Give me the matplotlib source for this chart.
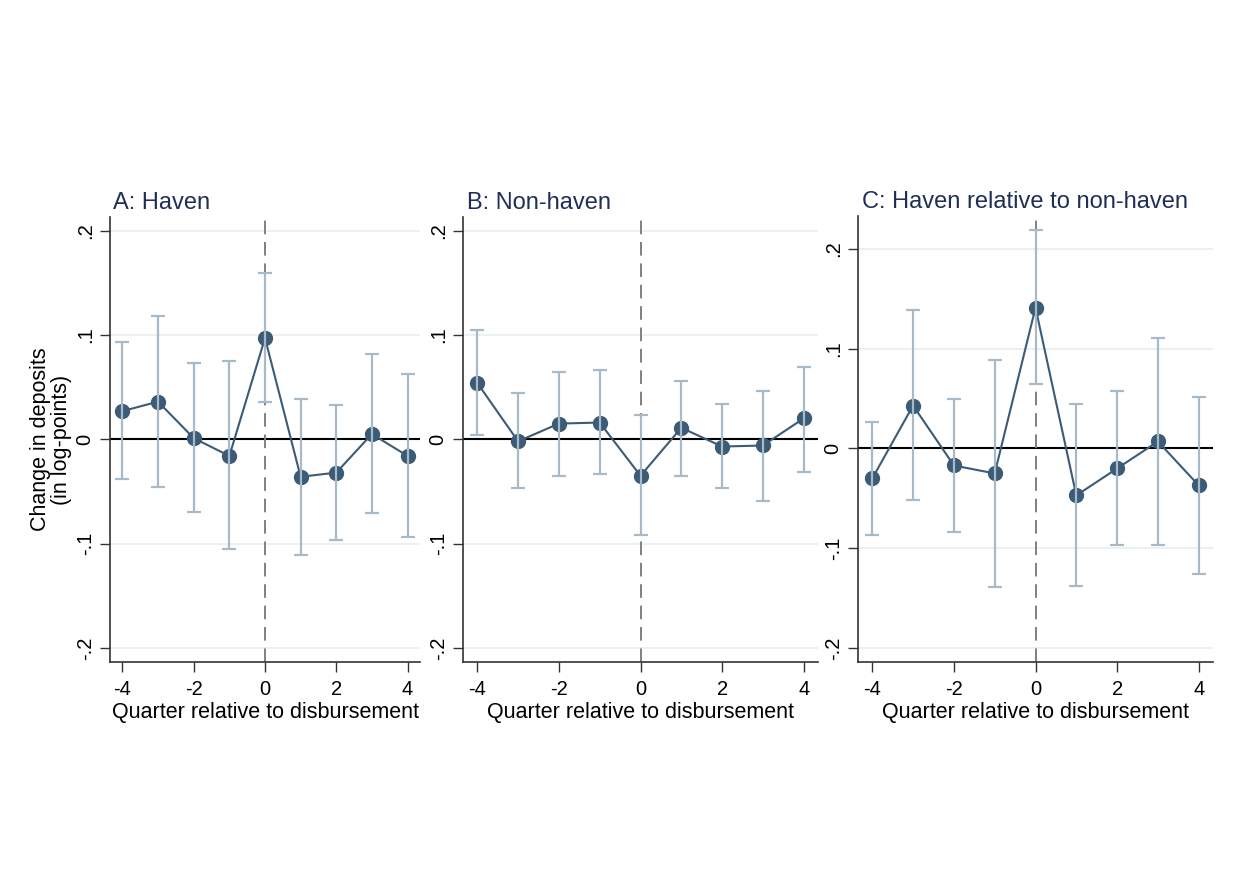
import matplotlib
matplotlib.use("Agg")
import matplotlib.pyplot as plt
import numpy as np

plt.rcParams['font.family'] = ['Liberation Sans', 'DejaVu Sans']

quarters = [-4, -3, -2, -1, 0, 1, 2, 3, 4]

# Panel A: haven
haven_est = [0.027, 0.036, 0.001, -0.016, 0.097, -0.036, -0.032, 0.005, -0.016]
haven_lo = [-0.038, -0.046, -0.070, -0.105, 0.036, -0.111, -0.097, -0.071, -0.094]
haven_hi = [0.093, 0.118, 0.073, 0.075, 0.159, 0.039, 0.033, 0.082, 0.063]

# Panel B: non-haven
nonhaven_est = [0.054, -0.002, 0.015, 0.016, -0.035, 0.011, -0.007, -0.006, 0.020]
nonhaven_lo = [0.004, -0.047, -0.035, -0.033, -0.092, -0.035, -0.047, -0.059, -0.031]
nonhaven_hi = [0.105, 0.044, 0.064, 0.066, 0.023, 0.056, 0.034, 0.046, 0.069]

# Panel C: haven relative to non-haven
diff_est = [-0.030, 0.043, -0.017, -0.025, 0.141, -0.047, -0.020, 0.007, -0.037]
diff_lo = [-0.087, -0.052, -0.084, -0.139, 0.065, -0.138, -0.097, -0.097, -0.126]
diff_hi = [0.027, 0.139, 0.050, 0.089, 0.219, 0.045, 0.058, 0.111, 0.052]

titles = ["A: Haven", "B: Non-haven", "C: Haven relative to non-haven"]
yticks = [-0.2, -0.1, 0.0, 0.1, 0.2]
ytick_labels = ["-.2", "-.1", "0", ".1", ".2"]
xticks = [-4, -2, 0, 2, 4]

POINT_COLOR = "#3b5b76"
CI_COLOR = "#a8bac8"
GRID_COLOR = "#e8f0f2"
TITLE_COLOR = "#1f2f57"

fig = plt.figure(figsize=(12.33, 8.96), dpi=100)
W, H = 1233, 896
boxes = [(110, 420, 217, 662, (-0.2135, 0.213)),
         (463, 818, 217, 662, (-0.2135, 0.213)),
         (858, 1213, 216, 662, (-0.2138, 0.2328))]

series = [(haven_est, haven_lo, haven_hi),
          (nonhaven_est, nonhaven_lo, nonhaven_hi),
          (diff_est, diff_lo, diff_hi)]

for i, ((x0, x1, y0, y1, ylim), (est, lo, hi), title) in enumerate(zip(boxes, series, titles)):
    ax = fig.add_axes([x0 / W, 1 - y1 / H, (x1 - x0) / W, (y1 - y0) / H])
    est = np.array(est)
    lo = np.array(lo)
    hi = np.array(hi)

    for yv in [-0.2, -0.1, 0.1, 0.2]:
        ax.axhline(yv, color=GRID_COLOR, lw=1.3, zorder=0)
    ax.axhline(0, color="black", lw=1.5, zorder=1)
    ax.axvline(0, color="#808080", lw=1.4, ls=(0, (7, 4)), zorder=2)

    ax.plot(quarters, est, color=POINT_COLOR, lw=1.5, marker="o", ms=10,
            markerfacecolor=POINT_COLOR, markeredgecolor=POINT_COLOR, zorder=3)
    ax.errorbar(quarters, est, yerr=[est - lo, hi - est], fmt="none",
                ecolor=CI_COLOR, elinewidth=1.6, capsize=5, capthick=1.6, zorder=4)

    ax.set_xlim(-4.35, 4.35)
    ax.set_ylim(*ylim)
    ax.set_xticks(xticks)
    ax.set_xticklabels([str(v) for v in xticks], fontsize=14.5)
    ax.set_yticks(yticks)
    ax.set_yticklabels(ytick_labels, fontsize=14.5, rotation=90, va="center")
    ax.tick_params(axis="both", length=7, width=1.0, color="#333333", pad=4)
    ax.tick_params(axis="x", pad=6)

    for side in ["top", "right"]:
        ax.spines[side].set_visible(False)
    for side in ["left", "bottom"]:
        ax.spines[side].set_linewidth(1.2)
        ax.spines[side].set_color("#333333")

    ax.set_xlabel("Quarter relative to disbursement", fontsize=15.5, labelpad=2)
    ax.set_title(title, loc="left", fontsize=17, color=TITLE_COLOR, pad=6, x=0.01)
    if i == 0:
        ax.set_ylabel("Change in deposits\n(in log-points)", fontsize=15.5, linespacing=0.95,
                      labelpad=3)

fig.savefig("out.png", dpi=100, facecolor="white")
